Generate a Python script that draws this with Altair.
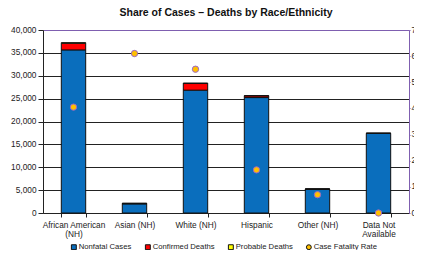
import altair as alt
import pandas as pd

categories = ["African American|(NH)", "Asian (NH)", "White (NH)", "Hispanic", "Other (NH)", "Data Not|Available"]
nonfatal = [35650, 1990, 26850, 25230, 5210, 17420]
confirmed = [1450, 110, 1450, 380, 32, 0]
probable = [130, 20, 110, 40, 6, 0]
cfr = [4.05, 6.1, 5.5, 1.65, 0.7, 0.0]

series = ["Nonfatal Cases", "Confirmed Deaths", "Probable Deaths", "Case Fatality Rate"]
colors = ["#0A6EBD", "#FF0000", "#FFFF00", "#FFC000"]
shapes = ["square", "square", "square", "circle"]

rows = []
for i, c in enumerate(categories):
    for j, (name, vals) in enumerate(zip(series[:3], [nonfatal, confirmed, probable])):
        rows.append({"cat": c, "series": name, "value": vals[i], "order": j})
bars_df = pd.DataFrame(rows)
pts_df = pd.DataFrame({"cat": categories, "series": "Case Fatality Rate", "cfr": cfr})

FONT = "Liberation Sans"
FS = 8.3
PURPLE = "#7F5FB0"

x_enc = alt.X("cat:N", sort=categories, title=None,
              scale=alt.Scale(paddingInner=0.6, paddingOuter=0.3),
              axis=alt.Axis(labelAngle=0, labelExpr="split(datum.label, '|')",
                            labelFontSize=FS, labelColor="#222", labelFont=FONT,
                            tickBand="extent", tickColor="#222", tickSize=4,
                            domainColor="#222", labelPadding=3, labelLineHeight=9.5))

color_scale = alt.Scale(domain=series, range=colors)
legend = alt.Legend(title=None, orient="none", legendX=27, legendY=213,
                    direction="horizontal",
                    labelFontSize=7.7, labelFont=FONT, labelColor="#222",
                    symbolSize=24, symbolStrokeWidth=1, labelOffset=1,
                    columnPadding=11)

bars = alt.Chart(bars_df).mark_bar(stroke="#111", strokeWidth=1).encode(
    x=x_enc,
    y=alt.Y("value:Q", stack="zero", title=None,
            scale=alt.Scale(domain=[0, 40000], nice=False),
            axis=alt.Axis(values=list(range(0, 40001, 5000)), format=",.0f",
                          labelFontSize=FS, labelFont=FONT, labelColor="#222",
                          grid=True,
                          gridColor={"condition": {"test": "datum.value >= 40000", "value": PURPLE},
                                     "value": "#222"},
                          gridWidth=1,
                          tickColor="#222", tickSize=5, domainColor="#222",
                          labelPadding=2)),
    color=alt.Color("series:N", scale=color_scale, legend=legend),
    order=alt.Order("order:Q"),
)

points = alt.Chart(pts_df).mark_point(filled=True, size=40, stroke="#9966CC",
                                       strokeWidth=1, opacity=1).encode(
    x=alt.X("cat:N", sort=categories),
    y=alt.Y("cfr:Q", title=None,
            scale=alt.Scale(domain=[0, 7], nice=False),
            axis=alt.Axis(orient="right", values=list(range(0, 8)), format="d",
                          labelFontSize=FS, labelFont=FONT, labelColor="#222",
                          grid=False, tickColor=PURPLE, tickSize=1,
                          domainColor=PURPLE, labelPadding=1)),
    color=alt.Color("series:N", scale=color_scale, legend=legend),
    shape=alt.Shape("series:N", scale=alt.Scale(domain=series, range=shapes), legend=legend),
)

chart = alt.layer(bars, points).resolve_scale(y="independent").properties(
    width=366, height=183,
    autosize=alt.AutoSizeParams(type="none"),
    padding={"left": 35, "top": 22, "right": 5, "bottom": 37},
    title=alt.TitleParams("Share of Cases – Deaths by Race/Ethnicity", fontSize=10.5,
                          font=FONT, fontWeight="bold", color="#111", offset=7),
).configure_view(stroke=PURPLE, strokeWidth=1).configure(background="white")

chart.save("out.html", embed_options={"renderer": "svg", "actions": False})
